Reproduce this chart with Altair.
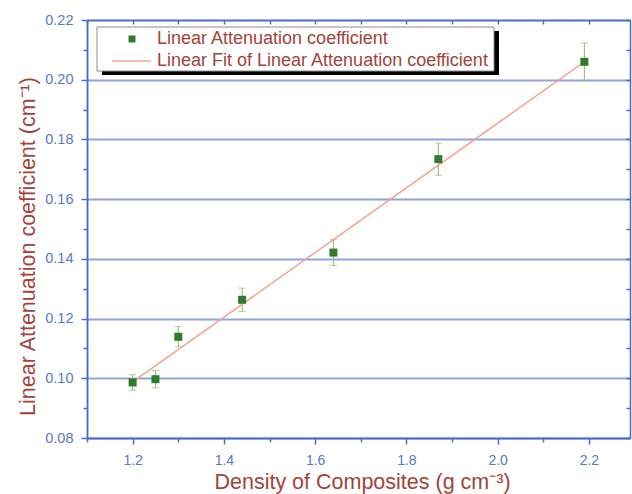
import altair as alt
import pandas as pd

# ---- data ----
density = [1.20, 1.25, 1.30, 1.44, 1.64, 1.87, 2.19]
mu = [0.0986, 0.0997, 0.1139, 0.1263, 0.1421, 0.1734, 0.2060]
mu_err = [0.0026, 0.0029, 0.0034, 0.0039, 0.0043, 0.0054, 0.0063]
fit_density = [1.20, 2.19]
fit_mu = [0.0988, 0.2060]
series_names = ["Linear Attenuation coefficient",
                "Linear Fit of Linear Attenuation coefficient"]
x_major = [1.2, 1.4, 1.6, 1.8, 2.0, 2.2]
x_minor = [1.1, 1.3, 1.5, 1.7, 1.9, 2.1]
x_all = [1.1, 1.2, 1.3, 1.4, 1.5, 1.6, 1.7, 1.8, 1.9, 2.0, 2.1, 2.2]
y_major = [0.08, 0.10, 0.12, 0.14, 0.16, 0.18, 0.20, 0.22]
y_minor = [0.09, 0.11, 0.13, 0.15, 0.17, 0.19, 0.21]
y_all = [0.08, 0.09, 0.10, 0.11, 0.12, 0.13, 0.14, 0.15, 0.16, 0.17,
         0.18, 0.19, 0.20, 0.21, 0.22]
x_title = "Density of Composites (g cm\u207b\u00b3)"
y_title = "Linear Attenuation coefficient (cm\u207b\u00b9)"

# ---- style ----
GREEN = "#2f7a2c"
ERR = "#8ab87a"
FIT = "#f5a48c"
AXIS = "#4a6cc6"
TICKLAB = "#5a78c8"
TITLE = "#a3433c"
GRID = "#8fa4de"
FONT = "Liberation Sans"
W, H = 543, 418

points_df = pd.DataFrame({"density": density, "mu": mu, "err": mu_err})
fit_df = pd.DataFrame({"density": fit_density, "mu": fit_mu})
one = pd.DataFrame({"k": [0]})

xscale = alt.Scale(domain=[1.1, 2.29], nice=False, zero=False)
yscale = alt.Scale(domain=[0.08, 0.22], nice=False, zero=False)

common_axis = dict(domainColor=AXIS, domainWidth=1.5, tickColor=AXIS,
                   tickWidth=1.5, grid=False, labels=False, title=None)

# main axes
x_main = alt.Axis(orient="bottom", values=x_major, format=".1f",
                  tickSize=6, tickColor=AXIS, tickWidth=1.5,
                  domainColor=AXIS, domainWidth=1.5, grid=False,
                  labelColor=TICKLAB, labelFont=FONT, labelFontSize=14,
                  labelPadding=9, labelFlush=False, labelOverlap=False,
                  title=x_title, titleFont=FONT, titleFontSize=21.5,
                  titleFontWeight="normal", titleColor=TITLE,
                  titleAlign="center", titleBaseline="alphabetic",
                  titleX=275, titleY=50)
y_main = alt.Axis(orient="left", values=y_major, format=".2f",
                  tickSize=6, tickColor=AXIS, tickWidth=1.5,
                  domainColor=AXIS, domainWidth=1.5,
                  grid=True, gridColor=GRID, gridWidth=2,
                  labelColor=TICKLAB, labelFont=FONT, labelFontSize=14.5,
                  labelPadding=8, labelFlush=False, labelOverlap=False,
                  title=y_title, titleFont=FONT, titleFontSize=21.5,
                  titleFontWeight="normal", titleColor=TITLE,
                  titleAngle=270, titleAlign="center",
                  titleBaseline="middle", titleX=-59, titleY=226)
# minor ticks
x_minor_ax = alt.Axis(orient="bottom", values=x_minor, tickSize=4, **common_axis)
y_minor_ax = alt.Axis(orient="left", values=y_minor, tickSize=4, **common_axis)
# mirrored top / right axes with inward ticks
x_top_ax = alt.Axis(orient="bottom", offset=-H, values=x_all, tickSize=4,
                    **common_axis)
y_right_ax = alt.Axis(orient="left", offset=-W, values=y_all, tickSize=4,
                      **common_axis)

errbars = alt.Chart(points_df).mark_errorbar(
    ticks={"size": 7}, color=ERR, thickness=1).encode(
    x=alt.X("density:Q", scale=xscale, axis=x_minor_ax),
    y=alt.Y("mu:Q", scale=yscale, axis=y_minor_ax),
    yError="err:Q",
)

fit = alt.Chart(fit_df).mark_line(strokeWidth=1.5, color=FIT).encode(
    x=alt.X("density:Q", scale=xscale, axis=x_top_ax),
    y=alt.Y("mu:Q", scale=yscale, axis=y_right_ax),
)

pts = alt.Chart(points_df).mark_square(size=64, opacity=1, color=GREEN).encode(
    x=alt.X("density:Q", scale=xscale, axis=x_main),
    y=alt.Y("mu:Q", scale=yscale, axis=y_main),
)

# ---- legend box (decoration) ----
leg_shadow = alt.Chart(one).mark_rect(color="black").encode(
    x=alt.value(15), x2=alt.value(412), y=alt.value(11), y2=alt.value(55))
leg_box = alt.Chart(one).mark_rect(fill="white", stroke="#8c8c8c",
                                    strokeWidth=1).encode(
    x=alt.value(10), x2=alt.value(407), y=alt.value(7), y2=alt.value(51))
leg_sym1 = alt.Chart(one).mark_square(size=49, color=GREEN, opacity=1).encode(
    x=alt.value(45), y=alt.value(19))
leg_sym2 = alt.Chart(one).mark_rule(color=FIT, strokeWidth=1.5).encode(
    x=alt.value(25), x2=alt.value(64), y=alt.value(41))
leg_txt1 = alt.Chart(one).mark_text(
    align="left", baseline="middle", font=FONT, fontSize=18, color=TITLE
).encode(x=alt.value(70), y=alt.value(19), text=alt.value(series_names[0]))
leg_txt2 = alt.Chart(one).mark_text(
    align="left", baseline="middle", font=FONT, fontSize=18, color=TITLE
).encode(x=alt.value(70), y=alt.value(41), text=alt.value(series_names[1]))

chart = alt.layer(
    errbars, fit, pts,
    leg_shadow, leg_box, leg_sym1, leg_sym2, leg_txt1, leg_txt2
).resolve_axis(
    x="independent", y="independent"
).properties(
    width=W, height=H,
    padding={"left": 87, "top": 20, "right": 2, "bottom": 56},
    autosize=alt.AutoSizeParams(type="none"),
    background="white",
).configure_view(stroke=None)

chart.save("out.html", embed_options={"renderer": "svg", "actions": False})
